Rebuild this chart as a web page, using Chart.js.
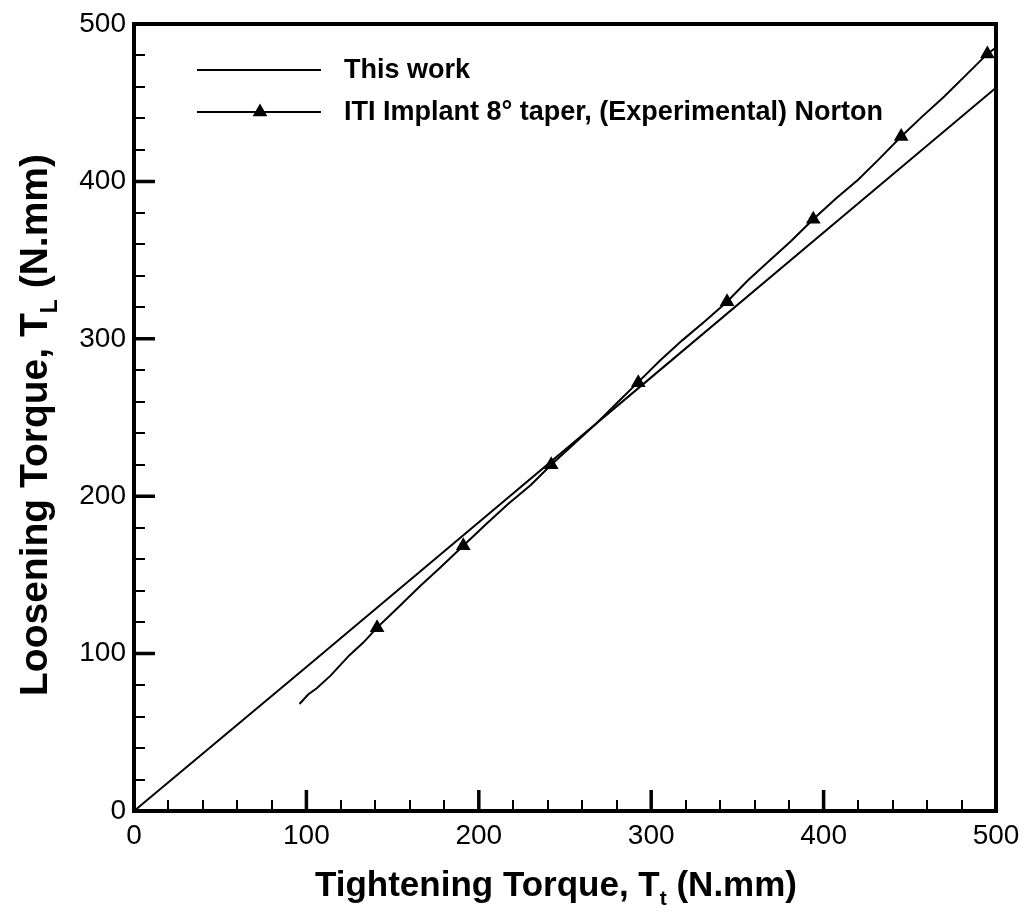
<!DOCTYPE html>
<html>
<head>
<meta charset="utf-8">
<script src="https://cdn.jsdelivr.net/npm/chart.js@4/dist/chart.umd.min.js"></script>
<style>
  html, body { margin: 0; padding: 0; background: #fff; }
  #wrap { width: 1028px; height: 914px; }
</style>
</head>
<body>
<div id="wrap"><canvas id="torqueChart" width="1028" height="914"></canvas></div>
<script>
// axis ranges / ticks
const xTicks = [0, 100, 200, 300, 400, 500];
const yTicks = [0, 100, 200, 300, 400, 500];
const minorStep = 20;

// "This work" (model line)
const thisWorkX = [0, 100, 200, 300, 400, 500];
const thisWorkY = [0, 91.5, 183.5, 275.5, 367.5, 459.5];

// ITI implant, experimental (Norton) - traced curve
const expCurveX = [96, 101, 106, 114, 125, 133, 141, 152, 166, 178, 191, 204, 217, 230, 242, 255, 267, 280, 292, 305, 318, 331, 344, 356, 369, 381, 394, 407, 420, 432, 445, 457, 470, 483, 495, 500];
const expCurveY = [68, 74, 78, 86, 99, 107, 116.5, 128, 143, 155, 168.5, 182, 195, 207, 220, 233, 245, 259, 272, 286, 299, 311, 323.5, 337, 350, 362, 376, 389, 401, 414, 428.5, 441, 454, 468, 481, 485];

// measured points (triangles)
const expMarkX = [141, 191, 242, 292.5, 344, 394, 445, 495];
const expMarkY = [116.5, 168.5, 220, 272, 323.5, 376, 428.5, 481];

const legendLabels = ['This work', 'ITI Implant 8\u00B0 taper, (Experimental) Norton'];

function zip(xs, ys) { return xs.map(function (x, i) { return { x: x, y: ys[i] }; }); }

const FONT = "'Liberation Sans', Arial, sans-serif";

// frame, inward ticks, legend and axis titles
const decorPlugin = {
    id: 'decor',
    afterDraw: function (chart) {
        const ctx = chart.ctx;
        const a = chart.chartArea;
        const xs = chart.scales.x, ys = chart.scales.y;
        ctx.save();
        ctx.strokeStyle = '#000';
        ctx.lineCap = 'butt';

        // minor ticks
        ctx.lineWidth = 2;
        ctx.beginPath();
        for (let v = 0; v <= 500; v += minorStep) {
            if (v % 100 === 0) continue;
            const px = Math.round(xs.getPixelForValue(v));
            ctx.moveTo(px, a.bottom); ctx.lineTo(px, a.bottom - 11);
            const py = Math.round(ys.getPixelForValue(v));
            ctx.moveTo(a.left, py); ctx.lineTo(a.left + 11, py);
        }
        ctx.stroke();

        // major ticks
        ctx.lineWidth = 3.5;
        ctx.beginPath();
        xTicks.forEach(function (v) {
            const px = xs.getPixelForValue(v);
            ctx.moveTo(px, a.bottom); ctx.lineTo(px, a.bottom - 21);
        });
        yTicks.forEach(function (v) {
            const py = ys.getPixelForValue(v);
            ctx.moveTo(a.left, py); ctx.lineTo(a.left + 21, py);
        });
        ctx.stroke();

        // frame
        ctx.lineWidth = 4;
        ctx.strokeRect(a.left, a.top, a.right - a.left, a.bottom - a.top);

        // legend
        ctx.lineWidth = 2;
        ctx.beginPath();
        ctx.moveTo(197, 70); ctx.lineTo(321, 70);
        ctx.moveTo(197, 112); ctx.lineTo(321, 112);
        ctx.stroke();
        ctx.fillStyle = '#000';
        const r = 8.5;
        ctx.beginPath();
        ctx.moveTo(260, 112 - r);
        ctx.lineTo(260 + r * Math.sin(2 * Math.PI / 3), 112 + r / 2);
        ctx.lineTo(260 - r * Math.sin(2 * Math.PI / 3), 112 + r / 2);
        ctx.closePath();
        ctx.fill();
        ctx.font = 'bold 27px ' + FONT;
        ctx.textBaseline = 'middle';
        ctx.textAlign = 'left';
        ctx.fillText(legendLabels[0], 344, 71);
        ctx.fillText(legendLabels[1], 344, 113);

        // x axis title with subscript
        drawTitle(ctx, 556, 896, 35, 'Tightening Torque, T', 't', ' (N.mm)');
        // y axis title, rotated
        ctx.save();
        ctx.translate(47, 425);
        ctx.rotate(-Math.PI / 2);
        drawTitle(ctx, 0, 0, 39, 'Loosening Torque, T', 'L', ' (N.mm)');
        ctx.restore();

        ctx.restore();
    }
};

function drawTitle(ctx, cx, baseY, size, pre, sub, post) {
    const big = 'bold ' + size + 'px ' + FONT, small = 'bold ' + Math.round(size * 0.6) + 'px ' + FONT;
    ctx.textBaseline = 'alphabetic';
    ctx.textAlign = 'left';
    ctx.font = big; const w1 = ctx.measureText(pre).width, w3 = ctx.measureText(post).width;
    ctx.font = small; const w2 = ctx.measureText(sub).width;
    let x = cx - (w1 + w2 + w3) / 2;
    ctx.font = big; ctx.fillText(pre, x, baseY); x += w1;
    ctx.font = small; ctx.fillText(sub, x, baseY + size * 0.25); x += w2;
    ctx.font = big; ctx.fillText(post, x, baseY);
}

new Chart(document.getElementById('torqueChart'), {
    type: 'scatter',
    data: {
        datasets: [
            {
                label: legendLabels[0],
                data: zip(thisWorkX, thisWorkY),
                showLine: true,
                borderColor: '#000',
                borderWidth: 2,
                pointRadius: 0,
                tension: 0
            },
            {
                label: legendLabels[1],
                data: zip(expCurveX, expCurveY),
                showLine: true,
                borderColor: '#000',
                borderWidth: 2,
                pointRadius: 0,
                tension: 0
            },
            {
                label: 'markers',
                data: zip(expMarkX, expMarkY),
                showLine: false,
                pointStyle: 'triangle',
                pointRadius: 8.5,
                backgroundColor: '#000',
                borderColor: '#000',
                borderWidth: 0
            }
        ]
    },
    options: {
        responsive: false,
        animation: false,
        devicePixelRatio: 1,
        layout: { padding: { top: 24, right: 32, left: 0, bottom: 0 } },
        plugins: {
            legend: { display: false },
            tooltip: { enabled: false }
        },
        scales: {
            x: {
                type: 'linear',
                min: 0, max: 500,
                grid: { display: false },
                border: { display: false },
                afterFit: function (s) { s.height = 103; },
                afterBuildTicks: function (s) { s.ticks = xTicks.map(function (v) { return { value: v }; }); },
                ticks: {
                    color: '#000',
                    font: { family: FONT, size: 28 },
                    padding: 0,
                    maxRotation: 0,
                    autoSkip: false
                }
            },
            y: {
                type: 'linear',
                min: 0, max: 500,
                grid: { display: false },
                border: { display: false },
                afterFit: function (s) { s.width = 134; },
                afterBuildTicks: function (s) { s.ticks = yTicks.map(function (v) { return { value: v }; }); },
                ticks: {
                    color: '#000',
                    font: { family: FONT, size: 28 },
                    padding: 0,
                    autoSkip: false
                }
            }
        }
    },
    plugins: [decorPlugin]
});
</script>
</body>
</html>
